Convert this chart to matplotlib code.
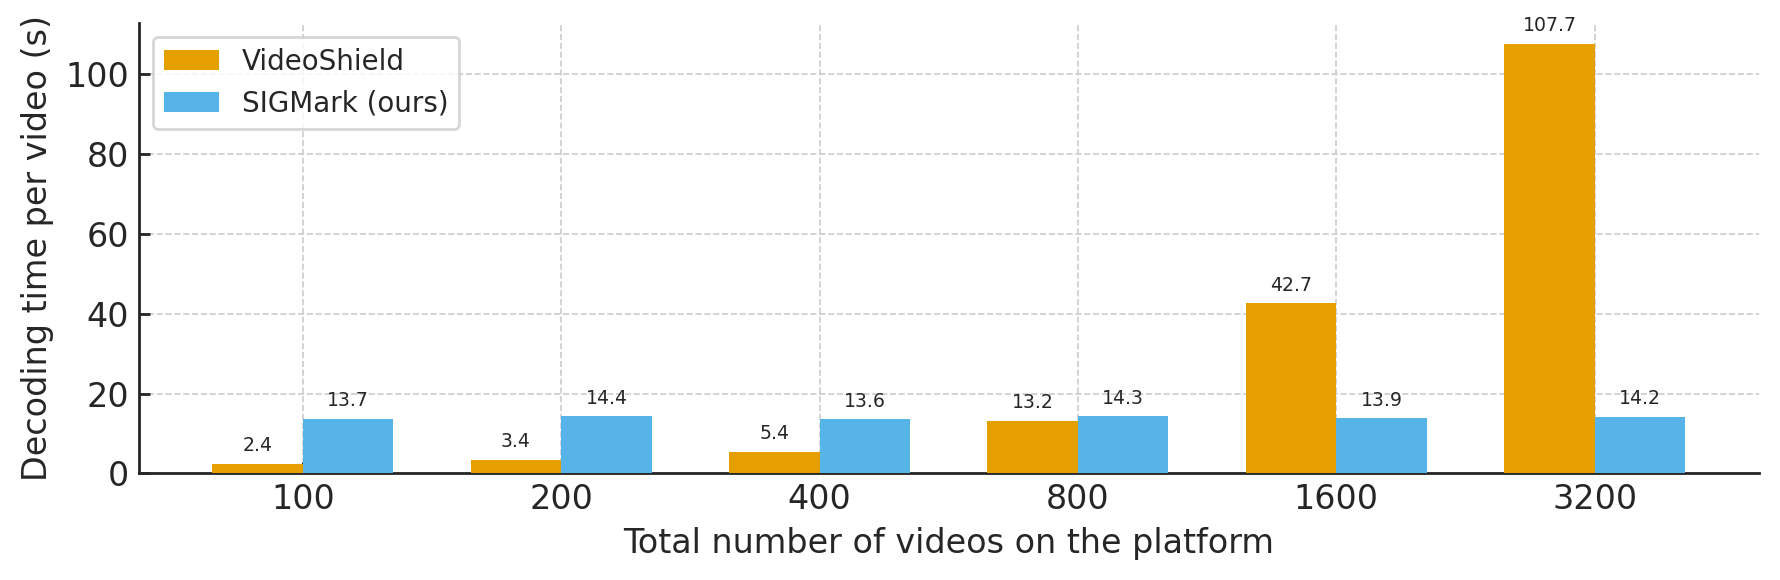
import matplotlib
matplotlib.use("Agg")
import matplotlib.pyplot as plt
import numpy as np

categories = ["100", "200", "400", "800", "1600", "3200"]
videoshield = [2.4, 3.4, 5.4, 13.2, 42.7, 107.7]
sigmark = [13.7, 14.4, 13.6, 14.3, 13.9, 14.2]
series_names = ["VideoShield", "SIGMark (ours)"]
colors = ["#E69F00", "#56B4E9"]

plt.rcParams['font.family'] = ['DejaVu Sans']
fig = plt.figure(figsize=(8.9, 2.9), dpi=200)
ax = fig.add_axes([0.078, 0.184, 0.91, 0.777])

x = np.arange(len(categories))
w = 0.35
b1 = ax.bar(x - w/2, videoshield, w, color=colors[0], label=series_names[0], zorder=3)
b2 = ax.bar(x + w/2, sigmark, w, color=colors[1], label=series_names[1], zorder=3)

for bars, vals in ((b1, videoshield), (b2, sigmark)):
    for rect, v in zip(bars, vals):
        ax.annotate(f"{v:.1f}", (rect.get_x() + rect.get_width()/2, v),
                    xytext=(0, 3), textcoords="offset points",
                    ha="center", va="bottom", fontsize=6.8, color="#262626")

ax.set_xticks(x)
ax.set_xticklabels(categories)
ax.set_xlim(-0.635, 5.635)
ax.set_ylim(0, 113)
ax.set_yticks([0, 20, 40, 60, 80, 100])
ax.tick_params(direction="in", labelsize=12, colors="#262626", length=4, width=1)
ax.set_xlabel("Total number of videos on the platform", fontsize=12, color="#262626")
ax.set_ylabel("Decoding time per video (s)", fontsize=12, color="#262626")
ax.grid(True, linestyle="--", color="#cccccc", linewidth=0.6, zorder=0)
for s in ["top", "right"]:
    ax.spines[s].set_visible(False)
for s in ["left", "bottom"]:
    ax.spines[s].set_color("#262626")
    ax.spines[s].set_linewidth(1.0)
leg = ax.legend(loc="upper left", fontsize=10, frameon=True, fancybox=True,
                edgecolor="#cccccc", labelcolor="#262626")
leg.get_frame().set_linewidth(1.0)

fig.savefig("out.png", dpi=200)
